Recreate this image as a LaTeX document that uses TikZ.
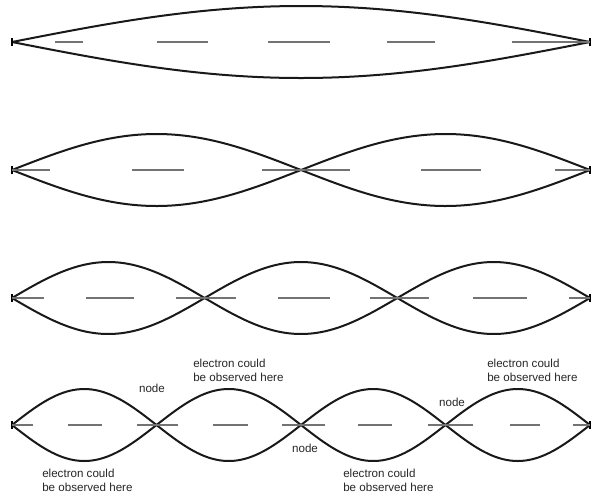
\documentclass[tikz,border=0pt]{standalone}
\usepackage{fontspec}
\setmainfont{Liberation Sans}
\begin{document}
\begin{tikzpicture}[x=0.75pt,y=-0.75pt,
    wavecurve/.style={line width=1.5pt, black!90},
    axisdash/.style={line width=0.8pt, black!55},
    endtick/.style={line width=1.6pt, black},
    notetext/.style={inner sep=0pt, text=black!85, align=left,
        font=\fontsize{8.7}{10.5}\selectfont}]
    \useasboundingbox (0,0) rectangle (599,494);

    % onde stazionarie, una riga per modo
    \foreach \n/\yy in {1/42,2/170,3/298,4/425}{
        \draw[wavecurve] plot[domain=12:590, samples=160, smooth]
            (\x,{\yy-36*sin(\n*(180/578)*(\x-12))});
        \draw[wavecurve] plot[domain=12:590, samples=160, smooth]
            (\x,{\yy+36*sin(\n*(180/578)*(\x-12))});
        \draw[endtick] (12,\yy-4)--(12,\yy+4);
        \draw[endtick] (590,\yy-4)--(590,\yy+4);
    }

    % asse tratteggiato
    \foreach \a/\b in {55/83,157/208,268/330,387/435,512/590}
        \draw[axisdash] (\a,42)--(\b,42);
    \foreach \a/\b in {12/50,132/184,262/350,421/481,555/590}
        \draw[axisdash] (\a,170)--(\b,170);
    \foreach \a/\b in {12/44,86/134,176/236,278/330,370/429,473/527,569/590}
        \draw[axisdash] (\a,298)--(\b,298);
    \foreach \a/\b in {12/33,68/102,137/178,213/248,282/325,358/392,428/473,510/540,573/590}
        \draw[axisdash] (\a,425)--(\b,425);

    % etichette
    \node[notetext, anchor=west] (obsA) at (193,370) {electron could\\be observed here};
    \node[notetext, anchor=west] (obsB) at (487,370) {electron could\\be observed here};
    \node[notetext, anchor=west] (obsC) at (42,480) {electron could\\be observed here};
    \node[notetext, anchor=west] (obsD) at (343,480) {electron could\\be observed here};
    \node[notetext] (nodeA) at (152,388) {node};
    \node[notetext] (nodeB) at (305,448) {node};
    \node[notetext] (nodeC) at (452,402) {node};
\end{tikzpicture}
\end{document}
